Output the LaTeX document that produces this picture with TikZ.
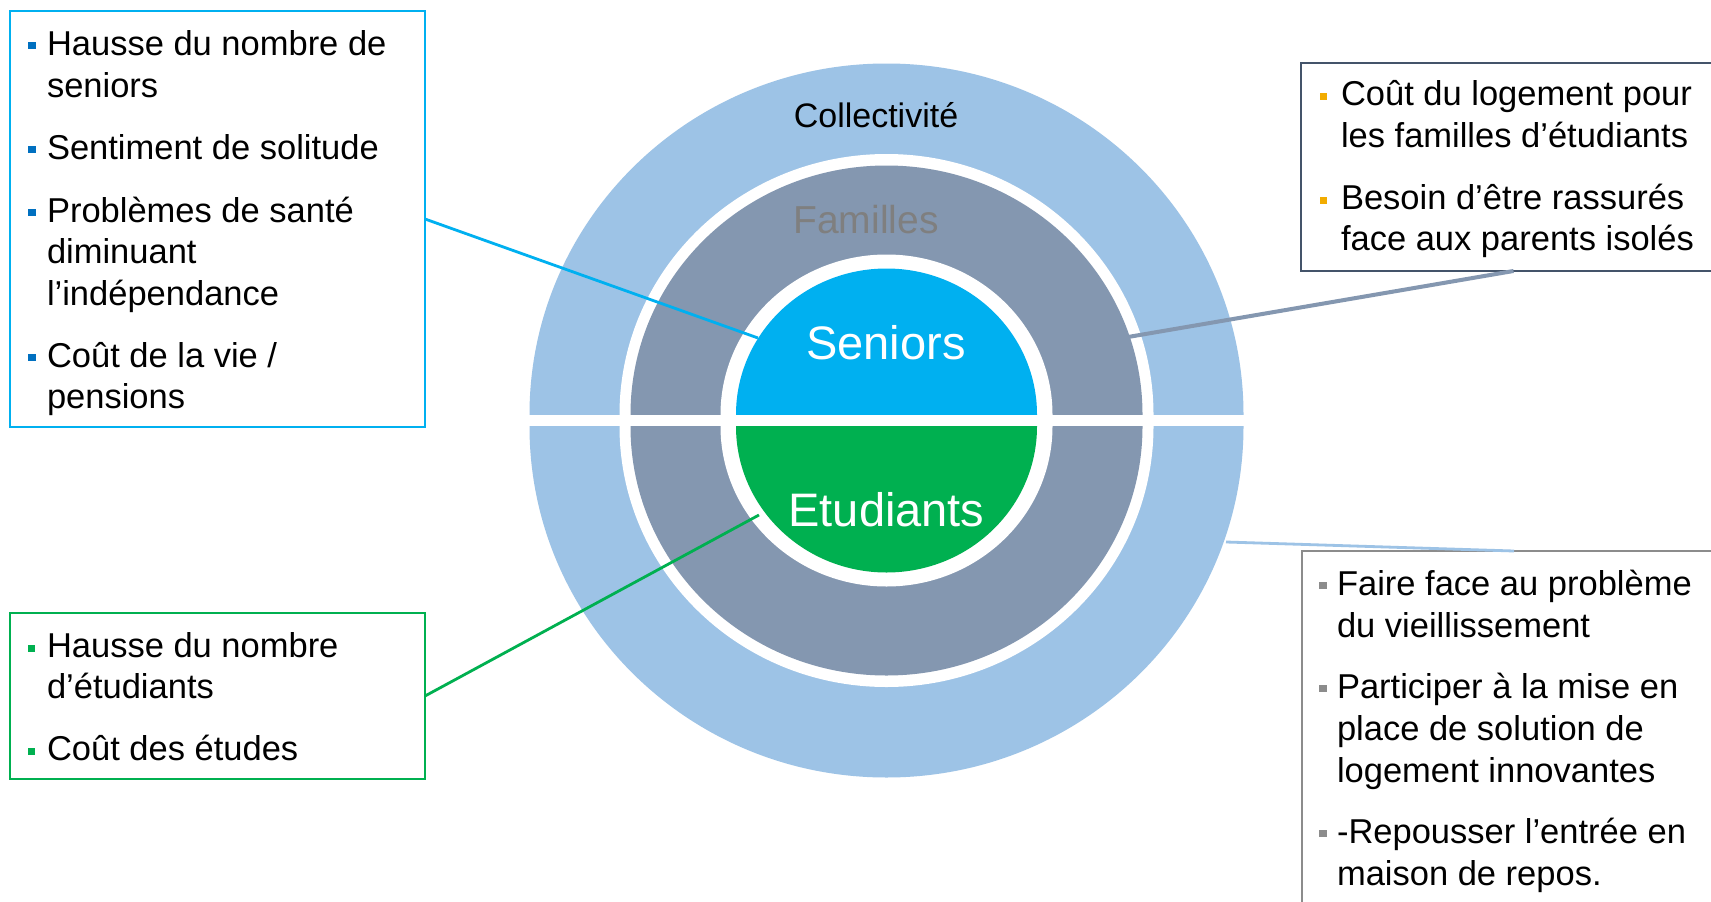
\documentclass[tikz,border=0pt]{standalone}
\usepackage{fontspec}
\setmainfont{Liberation Sans}
\definecolor{ringblue}{HTML}{9DC3E6}
\definecolor{famgray}{HTML}{8497B0}
\definecolor{senblue}{HTML}{00B0F0}
\definecolor{etugreen}{HTML}{00B050}
\definecolor{slate}{HTML}{44546A}
\definecolor{orangeb}{HTML}{F2AC00}
\definecolor{grayb}{HTML}{8C8C8C}
\definecolor{bulblue}{HTML}{0070C0}
\definecolor{famtext}{HTML}{7F7F7F}
\tikzset{
  infobox/.style={draw, rectangle, anchor=north west, inner sep=0pt, outer sep=0pt, line width=2.7pt},
  btext/.style={anchor=base west, inner sep=0pt, outer sep=0pt, font=\fontsize{34.5}{40}\selectfont},
  bsq/.style={rectangle, inner sep=0pt, outer sep=0pt, minimum size=7.5pt},
  lbl/.style={anchor=base, inner sep=0pt, outer sep=0pt},
  conn/.style={line width=2.8pt}
}
\newcommand\ringhalf[3]{% center y, inner colour, unused
  \fill[ringblue] (886.5,#1) ellipse [x radius=357pt, y radius=351pt];
  \fill[white] (886.5,#1) ellipse [x radius=267pt, y radius=260.5pt];
  \fill[famgray] (886.5,#1) ellipse [x radius=256pt, y radius=249pt];
  \fill[white] (886.5,#1) ellipse [x radius=166pt, y radius=160pt];
  \fill[#2] (886.5,#1) ellipse [x radius=150.5pt, y radius=146pt];
}
\begin{document}
\begin{tikzpicture}[x=1pt,y=-1pt]
\useasboundingbox (0,0) rectangle (1711,902);
\clip (0,0) rectangle (1711,902);
\fill[white] (0,0) rectangle (1711,902);
% upper half of the rings
\begin{scope}
  \clip (0,0) rectangle (1711,414.5);
  \ringhalf{414.5}{senblue}{}
\end{scope}
% lower half of the rings
\begin{scope}
  \clip (0,426.5) rectangle (1711,902);
  \ringhalf{426.5}{etugreen}{}
\end{scope}
% ring labels
\node[lbl, font=\fontsize{34}{40}\selectfont, text=black] (lcol) at (876,127) {Collectivité};
\node[lbl, font=\fontsize{39}{44}\selectfont, text=famtext] (lfam) at (866,233) {Familles};
\node[lbl, font=\fontsize{47}{52}\selectfont, text=white] (lsen) at (886,359) {Seniors};
\node[lbl, font=\fontsize{47}{52}\selectfont, text=white] (letu) at (886.5,526) {Etudiants};
% connector ends on the rings
\coordinate (endS) at (758,338);
\coordinate (endE) at (759,515);
\coordinate (endF) at (1128,337);
\coordinate (endC) at (1226,542);
% boxes
\node[infobox, draw=senblue, minimum width=415pt, minimum height=416pt] (sbox) at (10,11) {};
\node[infobox, draw=etugreen, minimum width=415pt, minimum height=166pt] (ebox) at (10,613) {};
\node[infobox, draw=slate, line width=2.5pt, minimum width=420pt, minimum height=208pt] (fbox) at (1301,63) {};
\node[infobox, draw=grayb, line width=2.5pt, minimum width=420pt, minimum height=400pt] (cbox) at (1302,551) {};
% connectors
\draw[conn, senblue] (sbox.east) -- (endS);
\draw[conn, etugreen] (ebox.east) -- (endE);
\draw[conn, famgray, line width=4pt] ([xshift=2.5pt]fbox.south) -- (endF);
\draw[conn, ringblue] ([xshift=2pt]cbox.north) -- (endC);
% seniors box text
\node[bsq, fill=bulblue] (sb1) at (31.8,45.5) {};
\node[bsq, fill=bulblue] (sb2) at (31.8,149.5) {};
\node[bsq, fill=bulblue] (sb3) at (31.8,212.5) {};
\node[bsq, fill=bulblue] (sb4) at (31.8,357.5) {};
\node[btext] (s1) at (47,55) {Hausse du nombre de};
\node[btext] (s2) at (47,97) {seniors};
\node[btext] (s3) at (47,159) {Sentiment de solitude};
\node[btext] (s4) at (47,222) {Problèmes de santé};
\node[btext] (s5) at (47,263) {diminuant};
\node[btext] (s6) at (47,305) {l’indépendance};
\node[btext] (s7) at (47,367) {Coût de la vie /};
\node[btext] (s8) at (47,408) {pensions};
% etudiants box text
\node[bsq, fill=etugreen] (eb1) at (31.6,648.5) {};
\node[bsq, fill=etugreen] (eb2) at (31.6,751.5) {};
\node[btext] (e1) at (47,657) {Hausse du nombre};
\node[btext] (e2) at (47,698) {d’étudiants};
\node[btext] (e3) at (47,760) {Coût des études};
% familles box text
\node[bsq, fill=orangeb] (fb1) at (1323.6,96.5) {};
\node[bsq, fill=orangeb] (fb2) at (1323.6,200.5) {};
\node[btext] (f1) at (1341,105) {Coût du logement pour};
\node[btext] (f2) at (1341,147) {les familles d’étudiants};
\node[btext] (f3) at (1341,209) {Besoin d’être rassurés};
\node[btext] (f4) at (1341,250) {face aux parents isolés};
% collectivite box text
\node[bsq, fill=grayb] (cb1) at (1322.8,585.5) {};
\node[bsq, fill=grayb] (cb2) at (1322.8,688.5) {};
\node[bsq, fill=grayb] (cb3) at (1322.8,833.5) {};
\node[btext] (c1) at (1337,595) {Faire face au problème};
\node[btext] (c2) at (1337,637) {du vieillissement};
\node[btext] (c3) at (1337,698) {Participer à la mise en};
\node[btext] (c4) at (1337,740) {place de solution de};
\node[btext] (c5) at (1337,782) {logement innovantes};
\node[btext] (c6) at (1337,843) {-Repousser l’entrée en};
\node[btext] (c7) at (1337,885) {maison de repos.};
\end{tikzpicture}
\end{document}
